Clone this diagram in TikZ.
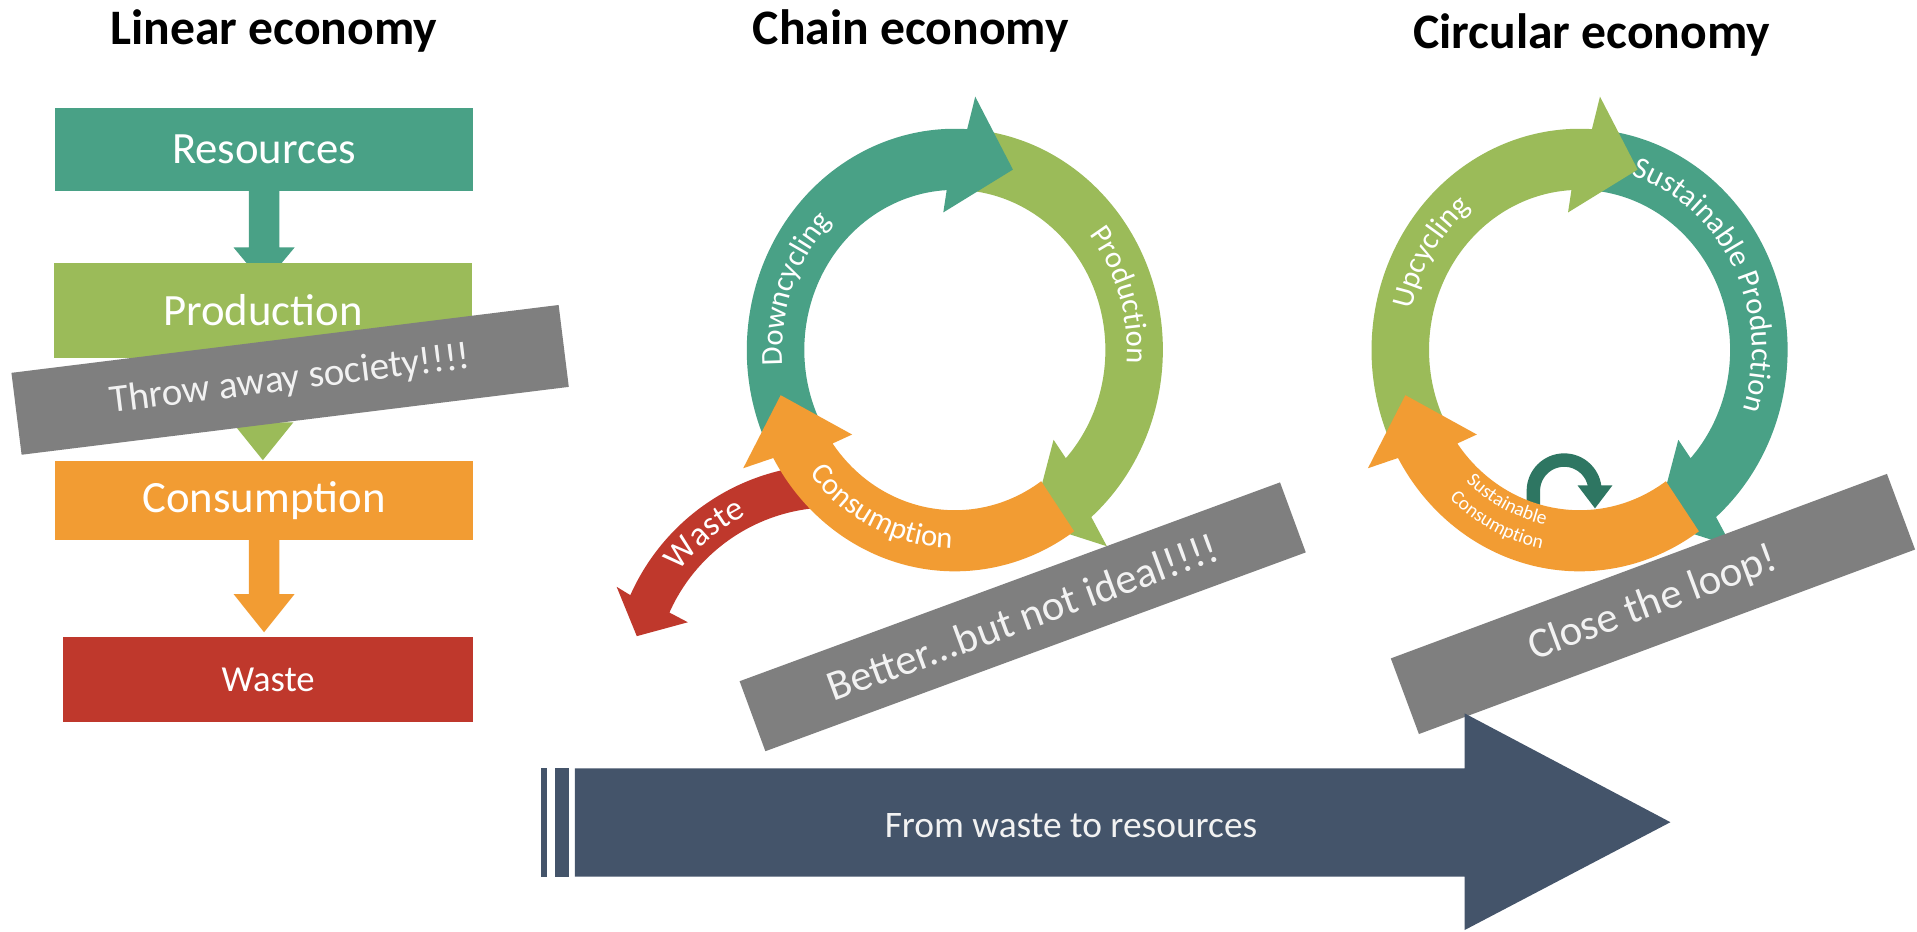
\documentclass[tikz,border=0pt]{standalone}
\usepackage{fontspec}
\setmainfont{Carlito}
\usetikzlibrary{calc,decorations.text}
\pgfdeclarelayer{back}
\pgfdeclarelayer{paper}
\pgfsetlayers{paper,back,main}
\definecolor{tealc}{HTML}{49A186}
\definecolor{greenc}{HTML}{9BBB59}
\definecolor{orangec}{HTML}{F29C33}
\definecolor{redc}{HTML}{BF382C}
\definecolor{grayc}{HTML}{7F7F7F}
\definecolor{slatec}{HTML}{44546A}
\definecolor{dgreenc}{HTML}{2E7662}
\definecolor{lightc}{HTML}{F2F2F2}
% ring arrow: colour, tail angle, tip angle (clockwise travel)
\newcommand{\ringarrow}[3]{\fill[#1] (#2:181) arc[start angle=#2, end angle={#3+15.5}, radius=181] -- ({#3+14}:208) -- (#3:156) -- ({#3+24}:113) -- ({#3+22}:131) arc[start angle={#3+22}, end angle=#2, radius=131] -- cycle;}
% text on an arc: radius, start, end, format, text
\newcommand{\arctext}[5]{\path[decorate, decoration={text along path, text={|#4|#5}, text align=center}] (#2:#1) arc[start angle=#2, end angle=#3, radius=#1];}
\newcommand{\ringfont}{\fontsize{12.5}{15}\selectfont\color{white}}
\newcommand{\smallringfont}{\fontsize{8}{10}\selectfont\color{white}}
% block arrow below a node: colour, node, shaft length, total length
\newcommand{\blockarrow}[4]{\fill[#1] ($(#2.south)+(-12.5,1)$) -- ($(#2.south)+(12.5,1)$) -- ($(#2.south)+(12.5,-#3)$) -- ($(#2.south)+(25,-#3)$) -- ($(#2.south)+(0,-#4)$) -- ($(#2.south)+(-25,-#3)$) -- ($(#2.south)+(-12.5,-#3)$) -- cycle;}
\tikzset{
  box/.style={rectangle, inner sep=0pt, text=white, font=\fontsize{18.3}{22}\selectfont},
  barnode/.style={rectangle, fill=grayc, inner sep=0pt, text=lightc},
  title/.style={inner sep=0pt, anchor=base, font=\fontsize{20.3}{24}\selectfont\bfseries}
}
\begin{document}
\begin{tikzpicture}[x=0.5pt,y=0.5pt]
\begin{pgfonlayer}{paper}
\fill[white] (0,0) rectangle (1568,-762);
\end{pgfonlayer}
\useasboundingbox (0,0) rectangle (1568,-762);

% titles
\node[title] (t1) at (224,-36) {Linear economy};
\node[title] (t2) at (745,-36) {Chain economy};
\node[title] (t3) at (1302,-40) {Circular economy};

% ---------- linear economy ----------
\node[box, fill=tealc, minimum width=171pt, minimum height=34pt] (res) at (216,-122) {Resources};
\node[box, fill=greenc, minimum width=171pt, minimum height=39pt] (prod) at (215,-254) {Production};
\node[box, fill=orangec, minimum width=171pt, minimum height=32.25pt] (cons) at (216,-409.2) {Consumption};
\node[box, fill=redc, minimum width=167.7pt, minimum height=34.5pt, font=\fontsize{15}{18}\selectfont] (wst) at (219.3,-555.8) {Waste};
\begin{pgfonlayer}{back}
\blockarrow{tealc}{res}{46}{76}
\blockarrow{greenc}{prod}{52}{83}
\blockarrow{orangec}{cons}{44}{75.3}
\end{pgfonlayer}
\node[barnode, rotate=7.07, minimum width=225.5pt, minimum height=33.75pt, font=\fontsize{16}{19}\selectfont] (bar1) at (237.3,-310.7) {Throw away society!!!!};

% ---------- chain economy ----------
\begin{scope}[shift={(781,-286.3)}, xscale=0.94]
\ringarrow{greenc}{82}{-64.5}
\ringarrow{tealc}{205}{71.1}
\end{scope}
\begin{scope}[shift={(680,-560)}]
\fill[redc] (95:180) arc[start angle=95, end angle=156, radius=180] -- (155.5:193) -- (166:164) -- (156.5:128) -- (156:145) arc[start angle=156, end angle=95, radius=145] -- cycle;
\arctext{155}{155}{105}{\fontsize{14}{16}\selectfont\color{white}}{Waste}
\end{scope}
\begin{scope}[shift={(781,-286.3)}, xscale=0.94]
\ringarrow{orangec}{-55}{-166.3}
\arctext{150}{192}{128}{\ringfont}{Downcycling}
\arctext{150}{47.5}{-12.5}{\ringfont}{Production}
\arctext{162}{214}{274}{\ringfont}{Consumption}
\end{scope}

% ---------- circular economy ----------
\begin{scope}[shift={(1292,-286.3)}, xscale=0.94]
\ringarrow{tealc}{82}{-64.5}
\ringarrow{greenc}{205}{71.1}
\end{scope}
\draw[dgreenc, line width=5.5pt] (1254.2,-416) -- (1254.2,-401.5) arc[start angle=180, end angle=0, radius=25.2];
\fill[dgreenc] (1290.3,-397) -- (1318.9,-397) -- (1304.6,-415.8) -- cycle;
\begin{scope}[shift={(1292,-286.3)}, xscale=0.94]
\ringarrow{orangec}{-55}{-166.3}
\arctext{150}{178}{118}{\ringfont}{Upcycling}
\arctext{150}{82}{-28}{\ringfont}{Sustainable Production}
\arctext{146}{213}{273}{\smallringfont}{Sustainable}
\arctext{166}{213}{273}{\smallringfont}{Consumption}
\end{scope}

% ---------- gray banners ----------
\node[barnode, rotate=20.2, minimum width=235.5pt, minimum height=30.5pt, font=\fontsize{17.5}{20}\selectfont] (bar2) at (836.5,-504.5) {Better...but not ideal!!!!};
\node[barnode, rotate=20.4, minimum width=216.5pt, minimum height=33pt, font=\fontsize{17.5}{20}\selectfont] (bar3) at (1352,-494) {Close the loop!};

% ---------- big arrow ----------
\fill[slatec] (442.2,-628.4) rectangle (447.7,-717);
\fill[slatec] (454,-628.4) rectangle (465.4,-717);
\fill[slatec] (470.3,-628.4) -- (1198,-628.4) -- (1198,-583.5) -- (1366.3,-672.5) -- (1198,-760.7) -- (1198,-717) -- (470.3,-717) -- cycle;
\node[inner sep=0pt, text=lightc, font=\fontsize{15.3}{18}\selectfont] (flow) at (876,-675) {From waste to resources};
\end{tikzpicture}
\end{document}
